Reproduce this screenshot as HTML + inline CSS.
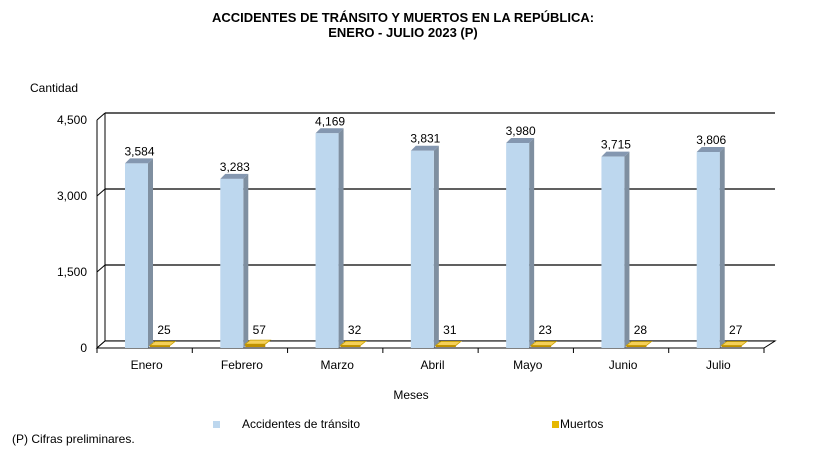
<!DOCTYPE html>
<html><head><meta charset="utf-8">
<style>
body{margin:0;background:#fff;width:815px;height:465px;overflow:hidden;font-family:"Liberation Sans",Arial,sans-serif;}
svg text{font-family:"Liberation Sans",Arial,sans-serif;}
</style></head>
<body>
<svg id="chart" width="815" height="465" xmlns="http://www.w3.org/2000/svg">
<text x="403" y="22" text-anchor="middle" font-size="13" font-weight="bold">ACCIDENTES DE TRÁNSITO Y MUERTOS EN LA REPÚBLICA:</text>
<text x="403" y="37" text-anchor="middle" font-size="13" font-weight="bold">ENERO - JULIO 2023 (P)</text>
<text x="30" y="92" font-size="12">Cantidad</text>
<text x="411" y="399" text-anchor="middle" font-size="12">Meses</text>
<g id="plot"></g>
<rect x="213" y="421" width="7" height="7" fill="#bdd7ee"/>
<text x="242" y="428" font-size="12">Accidentes de tránsito</text>
<rect x="552" y="421" width="7" height="7" fill="#e6b800"/>
<text x="560" y="428" font-size="12">Muertos</text>
<text x="12" y="443" font-size="12">(P) Cifras preliminares.</text>
</svg>
<script>
const categories=["Enero","Febrero","Marzo","Abril","Mayo","Junio","Julio"];
const accidentes=[3584,3283,4169,3831,3980,3715,3806];
const muertos=[25,57,32,31,23,28,27];
const yTicks=[0,1500,3000,4500];
const yTickLabels=["0","1,500","3,000","4,500"];

const NS="http://www.w3.org/2000/svg";
const g=document.getElementById('plot');
const X0=97,X1=764,DX=8,DY=7,FLOOR=348,TOPV=4500,TOPY=120;
const bandW=(X1-X0)/categories.length;
function yF(v){return FLOOR-(v/TOPV)*(FLOOR-TOPY);}
function yBar(v){return FLOOR-v*0.0515;}
function el(t,a){const e=document.createElementNS(NS,t);for(const k in a)e.setAttribute(k,a[k]);g.appendChild(e);return e;}
yTicks.forEach((t,i)=>{
  const y=yF(t);
  const l=el('line',{x1:X0+DX,y1:y-DY,x2:X1+DX+3,y2:y-DY,stroke:'#000','stroke-width':1.3});
  
  
  const d=el('line',{x1:X0,y1:y,x2:X0+DX,y2:y-DY,stroke:'#000'});
  
  
  const tx=el('text',{x:X0-10,y:y+4,'text-anchor':'end','font-size':12});
  tx.textContent=yTickLabels[i];
  
  
});
const va=el('line',{x1:X0+DX,y1:yF(TOPV)-DY,x2:X0+DX,y2:FLOOR-DY,stroke:'#000'});


const ax=el('line',{x1:X0,y1:yF(TOPV),x2:X0,y2:FLOOR+2,stroke:'#000'});


const fl=el('polygon',{points:`${X0},${FLOOR} ${X1},${FLOOR} ${X1+DX+3},${FLOOR-DY} ${X0+DX},${FLOOR-DY}`,fill:'#fff',stroke:'#000'});


for(let i=0;i<=categories.length;i++){
  const x=X0+i*bandW;
  const t=el('line',{x1:x,y1:FLOOR,x2:x,y2:FLOOR+5,stroke:'#000'});
  
  
}
categories.forEach((c,i)=>{
  const bx=X0+i*bandW;
  const x=bx+28,w=23,top=yBar(accidentes[i]);
  const side=el('polygon',{points:`${x+w},${top} ${x+w+5},${top-5} ${x+w+5},${FLOOR-5} ${x+w},${FLOOR}`,fill:'#7f8fa0'});
  
  
  const tp=el('polygon',{points:`${x},${top} ${x+5},${top-5} ${x+w+5},${top-5} ${x+w},${top}`,fill:'#8497b0'});
  
  
  const r=el('rect',{x:x,y:top,width:w,height:FLOOR-top,fill:'#bdd7ee'});
  
  
  const lt=el('text',{x:x+w/2+3,y:top-8,'text-anchor':'middle','font-size':12});
  lt.textContent=accidentes[i].toLocaleString('en-US');
  
  
  const mx=x+w+2,mw=20,mh=Math.max(1.5,FLOOR-yF(muertos[i]));
  const m=el('polygon',{points:`${mx},${FLOOR-1-mh} ${mx+mw},${FLOOR-1-mh} ${mx+mw+5},${FLOOR-5-mh} ${mx+5},${FLOOR-5-mh}`,fill:'#f5d05a',stroke:'#c9a000','stroke-width':0.8});
  
  
  const mf=el('rect',{x:mx,y:FLOOR-1-mh,width:mw,height:mh,fill:'#bf9000'});
  
  
  const ml=el('text',{x:mx+14,y:FLOOR-14,'text-anchor':'middle','font-size':12});
  ml.textContent=muertos[i];
  
  
  const cl=el('text',{x:bx+bandW/2+2,y:FLOOR+21,'text-anchor':'middle','font-size':12});
  cl.textContent=c;
  
  
});
</script>
</body></html>
